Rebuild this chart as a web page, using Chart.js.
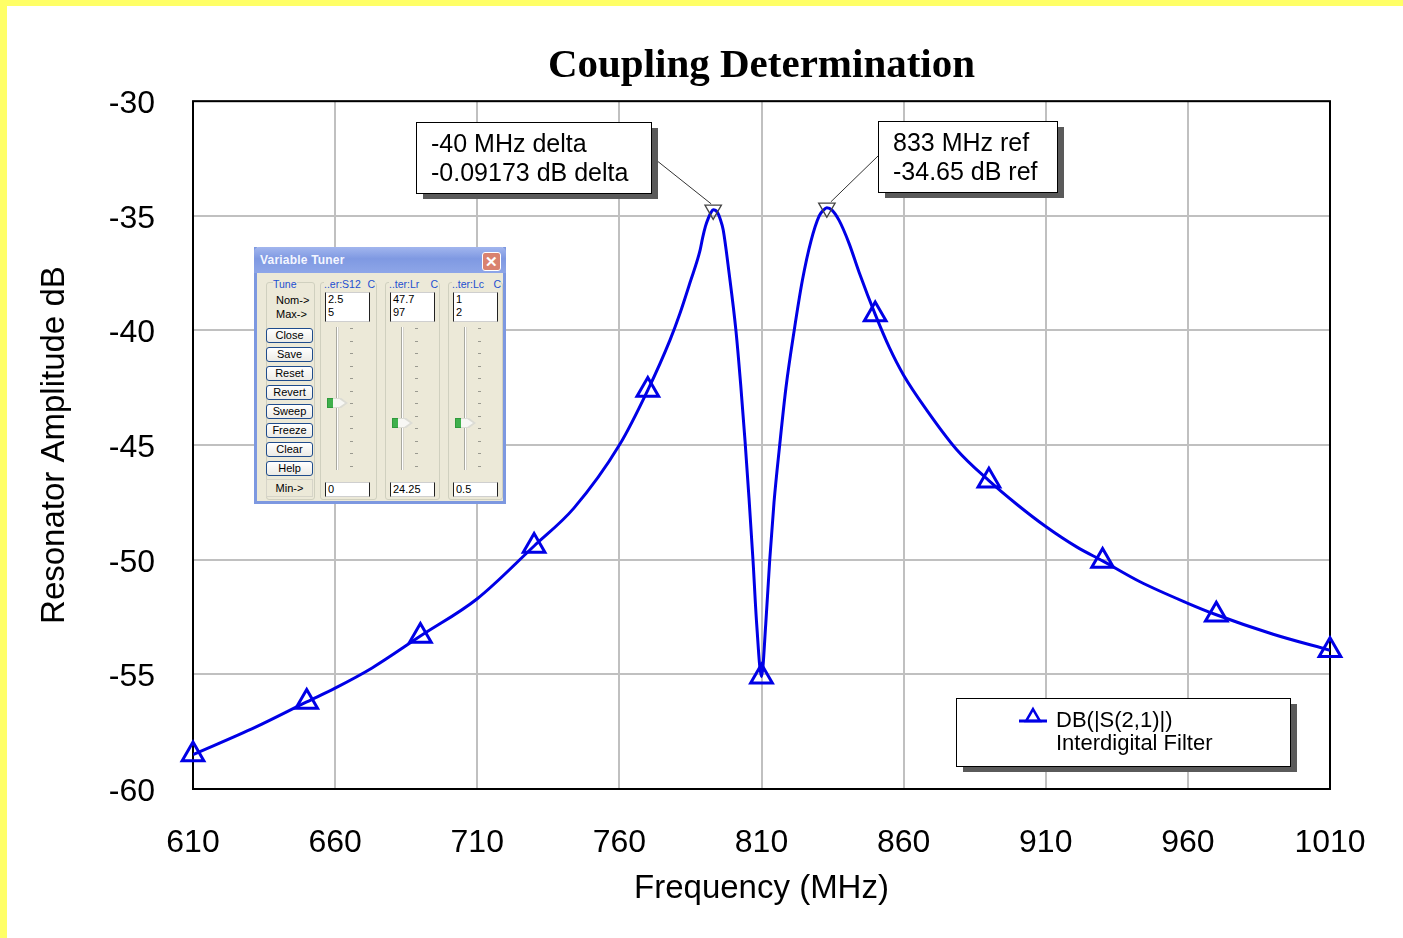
<!DOCTYPE html>
<html>
<head>
<meta charset="utf-8">
<script src="https://cdn.jsdelivr.net/npm/chart.js@4.4.1/dist/chart.umd.min.js"></script>
<style>
  html, body { margin:0; padding:0; background:#ffffff; }
  #wrap { position:relative; width:1403px; height:938px; overflow:hidden; background:#ffffff; }
  #c { position:absolute; left:0; top:0; }
  .ybar { position:absolute; background:#ffff66; }
  #tuner { position:absolute; left:254px; top:247px; width:246px; height:254px; border:3px solid #7d98e0; border-top:none;
           background:#ece9d8; font-family:"Liberation Sans", Arial, sans-serif; font-size:11px; color:#000; box-sizing:content-box; }
  #tuner .tb { position:absolute; left:-3px; top:0; width:252px; height:26px;
               background:linear-gradient(to bottom, #a2b6ee 0%, #7f99e2 45%, #8ea6e8 100%); border-radius:5px 5px 0 0; }
  #tuner .tt { position:absolute; left:6px; top:6px; color:#f4f6ff; font-weight:bold; font-size:12px; letter-spacing:0.2px; }
  #tuner .xb { position:absolute; left:228px; top:5px; width:19px; height:19px; background:#d9826f; border:1px solid #fff;
               border-radius:3px; color:#fff; font-weight:bold; font-size:15px; line-height:18px; text-align:center; box-sizing:border-box; }
  .a { position:absolute; }
  .grp { position:absolute; top:35px; height:218px; border:1px solid #d0d0bf; border-radius:3px; box-sizing:border-box; }
  .hdr { position:absolute; top:32px; color:#1c4fd0; background:#ece9d8; font-size:10.5px; line-height:11px; display:flex; justify-content:space-between; }
  .btn { position:absolute; left:9px; width:47px; height:15px; border:1px solid #1f4c8c; border-radius:3px; box-sizing:border-box;
         background:linear-gradient(to bottom, #ffffff, #ecebe6); text-align:center; line-height:13px; font-size:11px; }
  .tbx { position:absolute; background:#fff; border-left:1px solid #222; border-right:1px solid #222; border-top:1px solid #cfcfcf; border-bottom:1px solid #cfcfcf;
         box-sizing:border-box; font-size:11px; line-height:13px; padding-left:2px; }
  .trk { position:absolute; top:80px; width:3px; height:143px; background:linear-gradient(to right, #a9a9a0 0 1px, #ffffff 1px 2px, #d8d6cc 2px); }
  .tk { position:absolute; width:3px; height:1px; background:#9a9a90; }
  .th { position:absolute; width:21px; height:10px; clip-path:polygon(0 0, 68% 0, 100% 50%, 68% 100%, 0 100%);
        background:linear-gradient(to right, #2f9a3c 0 30%, #dcdcd4 30%); }
  .th i { position:absolute; left:1px; top:1px; width:17px; height:8px; clip-path:polygon(0 0, 66% 0, 100% 50%, 66% 100%, 0 100%);
          background:linear-gradient(to right, #3fb04c 0 28%, #f7f7f4 28%); }
</style>
</head>
<body>
<div id="wrap">
  <canvas id="c" width="1403" height="938"></canvas>
  <div class="ybar" style="left:0;top:0;width:1403px;height:6px;"></div>
  <div class="ybar" style="left:0;top:0;width:7px;height:938px;"></div>
  <div id="tuner">
    <div class="tb"><div class="tt">Variable Tuner</div><div class="xb">✕</div></div>
    <div class="grp" style="left:9px;width:49px;"></div>
    <div class="hdr" style="left:16px;"><span>Tune</span></div>
    <div class="a" style="left:19px;top:47px;">Nom-&gt;</div>
    <div class="a" style="left:19px;top:61px;">Max-&gt;</div>
    <div class="btn" style="top:81px;">Close</div>
    <div class="btn" style="top:100px;">Save</div>
    <div class="btn" style="top:119px;">Reset</div>
    <div class="btn" style="top:138px;">Revert</div>
    <div class="btn" style="top:157px;">Sweep</div>
    <div class="btn" style="top:176px;">Freeze</div>
    <div class="btn" style="top:195px;">Clear</div>
    <div class="btn" style="top:214px;">Help</div>
    <div class="a" style="left:9px;top:232px;width:47px;height:18px;border:1px solid #d6d4c8;box-sizing:border-box;text-align:center;line-height:16px;">Min-&gt;</div>
    <div id="cols"></div>
  </div>
</div>
<script>
// ---------------- data ----------------
const curveFreq = [610, 632, 650, 660, 673, 690, 710, 730, 744, 760, 770, 777.8, 781.3, 784.8, 788.4,
                   789.3, 790.3, 791.3, 792.2, 793,
                   794.5, 795.5, 796.5, 798.6, 801.0, 802.7, 804.2, 805.6, 807.0, 808.3, 810,
                   811.5, 812.9, 814.4, 816.4, 818.6, 821.5, 824.4, 827.4, 830.3, 831.8, 833,
                   834.8, 837.3, 840.8, 844.3, 850, 855, 860, 868, 878.7, 890, 900, 910, 921, 930,
                   943, 960, 970, 990, 1010];
const curveDb   = [-58.5, -57.3, -56.2, -55.6, -54.72, -53.33, -51.7, -49.4, -47.75, -45.0, -42.6, -40.42, -39.26, -37.93, -36.5,
                   -35.95, -35.45, -35.1, -34.86, -34.74,
                   -34.85, -35.15, -35.6, -37.5, -40.0, -42.4, -44.8, -47.3, -50.0, -52.8, -55.1,
                   -52.8, -50.0, -47.5, -45.0, -42.5, -40.0, -37.8, -36.1, -35.0, -34.75, -34.65,
                   -34.75, -35.2, -36.2, -37.45, -39.3, -40.75, -41.95, -43.45, -45.2, -46.55, -47.6, -48.55, -49.45, -50.05,
                   -50.95, -51.9, -52.4, -53.25, -53.95];
const markerFreq = [610, 650, 690, 730, 770, 810, 850, 890, 930, 970, 1010];
const markerDb   = [-58.5, -56.2, -53.33, -49.4, -42.6, -55.1, -39.3, -46.55, -50.05, -52.4, -53.95];
const peakFreq = [793, 833];
const peakDb   = [-34.74, -34.65];
const xTicks = [610, 660, 710, 760, 810, 860, 910, 960, 1010];
const yTicks = [-30, -35, -40, -45, -50, -55, -60];
const titleText = 'Coupling Determination';
const xTitle = 'Frequency (MHz)';
const yTitle = 'Resonator Amplitude dB';
const seriesName = ['DB(|S(2,1)|)', 'Interdigital Filter'];
const markerNotes = [['-40 MHz delta', '-0.09173 dB delta'], ['833 MHz ref', '-34.65 dB ref']];
const tunerCols = [
  { name: '..er:S12', nom: '2.5', max: '5', min: '0' },
  { name: '..ter:Lr', nom: '47.7', max: '97', min: '24.25' },
  { name: '..ter:Lc', nom: '1', max: '2', min: '0.5' }
];

// ---------------- tuner columns (HTML) ----------------
(function(){
  const cols = document.getElementById('cols');
  const grpL = [63, 128, 191], grpW = [57, 55, 55], thumbTop = [151, 171, 171];
  let html = '';
  tunerCols.forEach((c, i) => {
    const gl = grpL[i];
    html += `<div class="grp" style="left:${gl}px;width:${grpW[i]}px;"></div>`;
    html += `<div class="hdr" style="left:${gl+4}px;width:${grpW[i]-6}px;"><span>${c.name}</span><span>C</span></div>`;
    html += `<div class="tbx" style="left:${gl+5}px;top:45px;width:45px;height:30px;">${c.nom}<br>${c.max}</div>`;
    const tx = gl + 16;
    html += `<div class="trk" style="left:${tx}px;"></div>`;
    for (let k = 0; k < 12; k++) html += `<div class="tk" style="left:${tx+14}px;top:${81 + k*12.5}px;"></div>`;
    html += `<div class="th" style="left:${tx-9}px;top:${thumbTop[i]}px;"><i></i></div>`;
    html += `<div class="tbx" style="left:${gl+5}px;top:235px;width:45px;height:15px;">${c.min}</div>`;
  });
  cols.innerHTML = html;
})();

// ---------------- chart ----------------
const FONT = '"Liberation Sans", Arial, sans-serif';
const BLUE = '#0000e6';

const framePlugin = {
  id: 'frame',
  beforeDatasetsDraw(chart) {
    const {ctx, chartArea: a} = chart;
    ctx.save();
    ctx.strokeStyle = '#000';
    ctx.lineWidth = 2;
    ctx.strokeRect(a.left, a.top, a.right - a.left, a.bottom - a.top);
    ctx.restore();
  }
};

function shadowBox(ctx, x, y, w, h) {
  ctx.fillStyle = '#5a5a5a';
  ctx.fillRect(x + 7, y + 6, w, h);
  ctx.fillStyle = '#ffffff';
  ctx.fillRect(x, y, w, h);
  ctx.strokeStyle = '#000';
  ctx.lineWidth = 1;
  ctx.strokeRect(x + 0.5, y + 0.5, w, h);
}

const notesPlugin = {
  id: 'notes',
  afterDraw(chart) {
    const {ctx, scales: {x, y}} = chart;
    ctx.save();
    const boxes = [{x:416, y:122, w:235, h:71, ax:651, ay:156}, {x:878, y:121, w:179, h:71, ax:878, ay:156}];
    boxes.forEach((b, i) => {
      const px = x.getPixelForValue(peakFreq[i]);
      const py = y.getPixelForValue(peakDb[i]);
      ctx.strokeStyle = '#333';
      ctx.lineWidth = 1;
      ctx.beginPath();
      ctx.moveTo(b.ax, b.ay);
      ctx.lineTo(px + (i === 0 ? -2 : 4), py - 6);
      ctx.stroke();
    });
    boxes.forEach((b, i) => {
      shadowBox(ctx, b.x, b.y, b.w, b.h);
      ctx.fillStyle = '#000';
      ctx.font = '25px ' + FONT;
      ctx.textBaseline = 'alphabetic';
      ctx.textAlign = 'left';
      ctx.fillText(markerNotes[i][0], b.x + 15, b.y + 30);
      ctx.fillText(markerNotes[i][1], b.x + 15, b.y + 59);
    });
    // legend box
    shadowBox(ctx, 956, 698, 334, 68);
    ctx.strokeStyle = BLUE;
    ctx.lineWidth = 3;
    ctx.beginPath();
    ctx.moveTo(1019, 721); ctx.lineTo(1047, 721); ctx.stroke();
    const cx = 1033, cy = 717, r = 8;
    ctx.beginPath();
    for (let k = 0; k < 3; k++) {
      const ang = k * 2 * Math.PI / 3;
      const px = cx + Math.sin(ang) * r, py = cy - Math.cos(ang) * r;
      if (k === 0) ctx.moveTo(px, py); else ctx.lineTo(px, py);
    }
    ctx.closePath();
    ctx.lineWidth = 2.5;
    ctx.stroke();
    ctx.fillStyle = '#000';
    ctx.font = '22px ' + FONT;
    ctx.fillText(seriesName[0], 1056, 727);
    ctx.fillText(seriesName[1], 1056, 750);
    ctx.restore();
  }
};

new Chart(document.getElementById('c'), {
  type: 'line',
  data: {
    datasets: [
      {
        data: curveFreq.map((f, i) => ({x: f, y: curveDb[i]})),
        borderColor: BLUE, borderWidth: 3, pointRadius: 0, fill: false,
        cubicInterpolationMode: 'monotone', order: 3
      },
      {
        data: markerFreq.map((f, i) => ({x: f, y: markerDb[i]})),
        showLine: false, pointStyle: 'triangle', pointRadius: 12.5, pointBorderWidth: 3,
        pointBorderColor: BLUE, pointBackgroundColor: 'rgba(0,0,0,0)', clip: false, order: 2
      },
      {
        data: peakFreq.map((f, i) => ({x: f, y: peakDb[i]})),
        showLine: false, pointStyle: 'triangle', pointRotation: 180, pointRadius: 9.5, pointBorderWidth: 1.3,
        pointBorderColor: '#444', pointBackgroundColor: 'rgba(0,0,0,0)', clip: false, order: 1
      }
    ]
  },
  options: {
    responsive: false, animation: false, events: [],
    layout: { padding: { left: 0, right: 73, top: 0, bottom: 0 } },
    plugins: {
      legend: { display: false },
      tooltip: { enabled: false },
      title: {
        display: true, fullSize: false, text: titleText, color: '#000',
        font: { family: '"Liberation Serif", "Times New Roman", serif', size: 41, weight: 'bold', lineHeight: 1.2 },
        padding: { top: 42, bottom: 10 }
      }
    },
    scales: {
      x: {
        type: 'linear', min: 610, max: 1010,
        afterBuildTicks: s => { s.ticks = xTicks.map(v => ({value: v})); },
        afterFit: s => { s.height = 149; },
        grid: { color: '#c0c0c0', lineWidth: 2, drawTicks: false },
        border: { display: false },
        ticks: { padding: 35, color: '#000', font: { family: FONT, size: 32 }, maxRotation: 0, autoSkip: false,
                 callback: v => String(v) },
        title: { display: true, text: xTitle, color: '#000', font: { family: FONT, size: 33, lineHeight: 1.2 }, padding: { top: 0, bottom: 29 } }
      },
      y: {
        type: 'linear', min: -60, max: -30,
        afterBuildTicks: s => { s.ticks = yTicks.map(v => ({value: v})); },
        afterFit: s => { s.width = 193; },
        grid: { color: '#c0c0c0', lineWidth: 2, drawTicks: false },
        border: { display: false },
        ticks: { padding: 38, labelOffset: 3, color: '#000', font: { family: FONT, size: 32 }, autoSkip: false, callback: v => String(v) },
        title: { display: true, text: yTitle, color: '#000', font: { family: FONT, size: 33, lineHeight: 1.2 }, padding: { top: 35, bottom: 0 } }
      }
    }
  },
  plugins: [framePlugin, notesPlugin]
});
</script>
</body>
</html>
